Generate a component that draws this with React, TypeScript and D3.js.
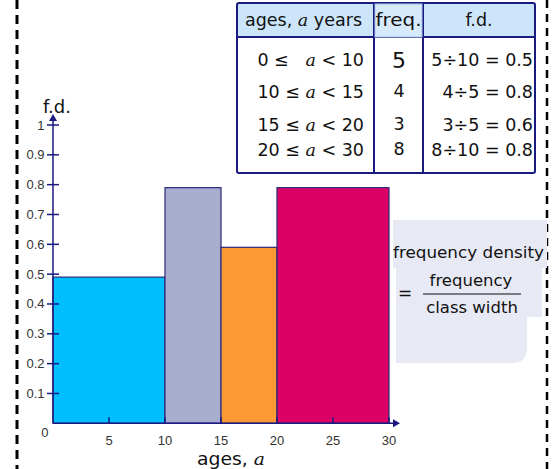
import React from "react";
import * as d3 from "d3";

const classLabelsLeft = ["0", "10", "15", "20"];
const classLabelsRight = ["10", "15", "20", "30"];
const lowerBounds = [0, 10, 15, 20];
const upperBounds = [10, 15, 20, 30];
const frequencies = [5, 4, 3, 8];
const fdTexts = ["5÷10 = 0.5", "4÷5 = 0.8", "3÷5 = 0.6", "8÷10 = 0.8"];
const fdValues = [0.49, 0.79, 0.59, 0.79];
const barColors = ["#00BFFF", "#AAAECE", "#FF9933", "#DD0066"];
const xTicks = [5, 10, 15, 20, 25, 30];
const yTicks = [0.1, 0.2, 0.3, 0.4, 0.5, 0.6, 0.7, 0.8, 0.9, 1];

const AXIS = "#1a1a80";
const VERD = "'DejaVu Sans', Verdana, sans-serif";
const ARIAL = "'Liberation Sans', Arial, sans-serif";
const SERIF = "'DejaVu Serif', 'Liberation Serif', serif";
const TF = 17.5;

export default function App() {
  const x = d3.scaleLinear().domain([0, 30]).range([53, 389]);
  const y = d3.scaleLinear().domain([0, 1]).range([423.3, 125]);
  const rowBase = [66, 98, 131, 156];

  const boxPath = "M393,220 H547 V268 H542 V317 H527 V348 Q527,363 512,363 H396 V268 H393 Z";

  return (
    <svg width={555} height={469} style={{ position: "absolute", left: 0, top: 0, background: "#fff" }}>
      {/* dashed borders */}
      <line x1={17} y1={0} x2={17} y2={469} stroke="#000" strokeWidth={3} strokeDasharray="9 6" />
      <line x1={547} y1={0} x2={547} y2={469} stroke="#000" strokeWidth={2.5} strokeDasharray="8 6" />

      {/* bars */}
      {lowerBounds.map((lo, i) => (
        <rect key={i} x={x(lo)} y={y(fdValues[i])} width={x(upperBounds[i]) - x(lo)} height={y(0) - y(fdValues[i])}
          fill={barColors[i]} stroke="#2a2a7a" strokeWidth={1.2} />
      ))}

      {/* y axis */}
      <line x1={x(0)} y1={y(0)} x2={x(0)} y2={120} stroke={AXIS} strokeWidth={1.5} />
      <path d={`M${x(0) - 4},${121} L${x(0)},${114} L${x(0) + 4},${121} Z`} fill={AXIS} />
      {yTicks.map((t) => (
        <g key={t}>
          <line x1={47} x2={59} y1={y(t)} y2={y(t)} stroke={AXIS} strokeWidth={1.5} />
          <text x={44.5} y={y(t) + 4.5} textAnchor="end" fontSize={13} fontFamily={ARIAL} fill="#333">{t === 1 ? "1" : t.toFixed(1)}</text>
        </g>
      ))}
      <text x={48.5} y={437} textAnchor="end" fontSize={13} fontFamily={ARIAL} fill="#333">0</text>

      {/* x axis */}
      <line x1={x(0)} y1={y(0)} x2={394} y2={y(0)} stroke={AXIS} strokeWidth={1.5} />
      <path d={`M${393},${y(0) - 4} L${400},${y(0)} L${393},${y(0) + 4} Z`} fill={AXIS} />
      {xTicks.map((t) => (
        <g key={t}>
          <line x1={x(t)} x2={x(t)} y1={y(0) - 6} y2={y(0)} stroke={AXIS} strokeWidth={1.5} />
          <text x={x(t)} y={445} textAnchor="middle" fontSize={13} fontFamily={ARIAL} fill="#333">{t}</text>
        </g>
      ))}

      {/* axis titles */}
      <text x={43} y={113} fontSize={18} fontFamily={VERD} fill="#111">f.d.</text>
      <text x={197} y={465} fontSize={17.5} fontFamily={VERD} fill="#111" textLength={68} lengthAdjust="spacingAndGlyphs">
        ages, <tspan fontFamily={SERIF} fontStyle="italic">a</tspan>
      </text>

      {/* formula box */}
      <path d={boxPath} fill="#E7E9F4" />
      <text x={393} y={258} fontSize={16.5} fontFamily={VERD} fill="#111" textLength={151} lengthAdjust="spacingAndGlyphs">frequency density</text>
      <text x={405} y={299} fontSize={17} fontFamily={VERD} fill="#111" textAnchor="middle">=</text>
      <text x={471} y={286} fontSize={16.5} fontFamily={VERD} fill="#111" textAnchor="middle">frequency</text>
      <line x1={423} x2={521} y1={294} y2={294} stroke="#111" strokeWidth={1.2} />
      <text x={472} y={313} fontSize={16.5} fontFamily={VERD} fill="#111" textAnchor="middle">class width</text>

      {/* table */}
      <rect x={237} y={3} width={298} height={34} fill="#CCE5FA" />
      <rect x={237} y={3} width={298} height={170} fill="none" stroke={AXIS} strokeWidth={2} rx={2} />
      <line x1={237} x2={535} y1={37} y2={37} stroke={AXIS} strokeWidth={2} />
      <line x1={374} x2={374} y1={3} y2={173} stroke={AXIS} strokeWidth={2} />
      <line x1={423} x2={423} y1={3} y2={173} stroke={AXIS} strokeWidth={2} />
      <rect x={375} y={4} width={47} height={33} fill="#D6EAFB" stroke="#a9c7e8" strokeWidth={1} />
      <text x={245} y={26} fontSize={TF} fontFamily={VERD} fill="#111">
        ages, <tspan fontFamily={SERIF} fontStyle="italic">a</tspan> years
      </text>
      <text x={398.5} y={26} fontSize={TF} fontFamily={VERD} fill="#111" textAnchor="middle" textLength={46} lengthAdjust="spacingAndGlyphs">freq.</text>
      <text x={479} y={26} fontSize={TF} fontFamily={VERD} fill="#111" textAnchor="middle">f.d.</text>
      {classLabelsLeft.map((lo, i) => (
        <g key={i}>
          <text x={364} y={rowBase[i]} fontSize={TF} fontFamily={VERD} fill="#111" textAnchor="end">
            {lo} ≤{i === 0 ? "\u00a0\u00a0" : ""} <tspan fontFamily={SERIF} fontStyle="italic">a</tspan> &lt; {classLabelsRight[i]}
          </text>
          <text x={399} y={rowBase[i] + (i === 0 ? 2 : -1)} fontSize={i === 0 ? 22 : TF} fontFamily={VERD} fill="#111" textAnchor="middle">{frequencies[i]}</text>
          <text x={533} y={rowBase[i]} fontSize={TF} fontFamily={VERD} fill="#111" textAnchor="end">{fdTexts[i]}</text>
        </g>
      ))}
    </svg>
  );
}
